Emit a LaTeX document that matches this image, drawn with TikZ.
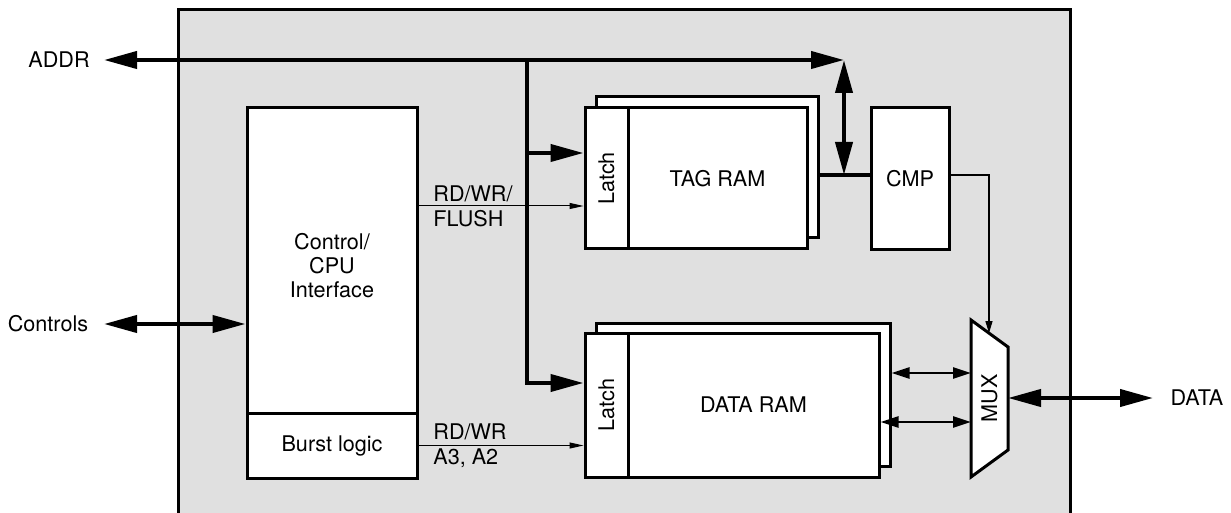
\documentclass[tikz,border=0pt]{standalone}
\usepackage{fontspec}
\setmainfont{TeX Gyre Heros}
\usepackage{graphicx}
\usetikzlibrary{arrows.meta,calc}
\begin{document}
\begin{tikzpicture}[x=0.5pt,y=-0.5pt,
  font=\fontsize{10.8}{12}\selectfont,
  box/.style={draw,line width=1.5pt,fill=white,inner sep=0pt,align=center},
  bus/.style={line width=2pt},
  bigtip/.tip={Triangle[length=16.5pt,width=8.5pt]},
  medtip/.tip={Triangle[length=9pt,width=5.5pt]},
  smalltip/.tip={Triangle[length=7pt,width=3pt]},
  sig/.style={line width=0.5pt,-smalltip},
  med/.style={line width=1.2pt,medtip-medtip},
  lbl/.style={anchor=west,align=left,inner sep=0pt,font=\fontsize{10.8}{12.5}\selectfont}]
\useasboundingbox (0,0) rectangle (1231,513);
% enclosure
\fill[black!12] (178,10) rectangle (1070,520);
\draw[line width=1.5pt] (178,520) -- (178,10) -- (1070,10) -- (1070,520);

% blocks
\node[box,minimum width=85pt,minimum height=152.5pt] (ctrl) at (332,260.5) {};
\node[align=center,inner sep=0pt] (ctrltxt) at (332,266) {Control/\\CPU\\Interface};
\node[box,minimum width=85pt,minimum height=32.5pt] (burst) at (332,445.5) {Burst logic};

\node[box,minimum width=111pt,minimum height=70.5pt] (tagback) at (707,167.5) {};
\node[box,minimum width=21.5pt,minimum height=70.5pt] (tlatch) at (606.5,178.5) {\rotatebox{90}{Latch}};
\node[box,minimum width=89.5pt,minimum height=70.5pt] (tag) at (717.5,178.5) {TAG RAM};

\node[box,minimum width=39pt,minimum height=71pt] (cmp) at (910,179) {CMP};

\node[box,minimum width=147pt,minimum height=71.5pt] (dback) at (743,394.5) {};
\node[box,minimum width=21.5pt,minimum height=72pt] (dlatch) at (606.5,405) {\rotatebox{90}{Latch}};
\node[box,minimum width=125.5pt,minimum height=72pt] (dram) at (753.5,405) {DATA RAM};

% MUX
\coordinate (m1) at (971,320);
\coordinate (m2) at (1008,347);
\coordinate (m3) at (1008,450);
\coordinate (m4) at (971,477);
\draw[line width=1.5pt,fill=white] (m1) -- (m2) -- (m3) -- (m4) -- cycle;
\node[rotate=90] (mux) at (989.5,398.5) {MUX};

% external labels
\node (addr) at (59,60) {ADDR};
\node (controls) at (48,324) {Controls};
\node (datalbl) at (1197,398) {DATA};
\coordinate (addrtip) at (104,60);
\coordinate (ctltip) at (104,324);
\coordinate (datatip) at (1153,398);

% helper coordinates
\coordinate (j) at (527,60);
\coordinate (busend) at (844,60);
\coordinate (tc) at (844,175);
\coordinate (ytl) at (0,153);
\coordinate (ydl) at (0,383);
\coordinate (yrw) at (0,206);
\coordinate (yd1) at (0,373);
\coordinate (yd2) at (0,422);
\coordinate (ydo) at (0,398);
\coordinate (muxin) at ($(m1)!0.486!(m2)$);

% address bus
\draw[bus,bigtip-bigtip] (addrtip) -- (busend);
\draw[bus,bigtip-bigtip] (busend) -- (tc);
\draw[bus] (tagback.east |- tc) -- (cmp.west |- tc);
\draw[bus,-bigtip] (j) |- (tlatch.west |- ytl);
\draw[bus,-bigtip] (j) |- (dlatch.west |- ydl);

% control signals
\draw[bus,bigtip-bigtip] (ctltip) -- (ctrl.west |- ctltip);
\draw[sig] (ctrl.east |- yrw) -- (tlatch.west |- yrw);
\node[lbl] (rw1) at (433,206) {RD/WR/\\FLUSH};
\draw[sig] (burst.east) -- (dlatch.west |- burst.east);
\node[lbl] (rw2) at (433,445.5) {RD/WR\\A3, A2};

% compare to mux
\draw[line width=0.6pt,-{Triangle[length=6pt,width=3.5pt]}] (cmp.east |- tc) -| (muxin);

% data paths
\draw[med] (dback.east |- yd1) -- (m1 |- yd1);
\draw[med] (dram.east |- yd2) -- (m1 |- yd2);
\draw[bus,bigtip-bigtip] (m2 |- ydo) -- (datatip);
\end{tikzpicture}
\end{document}
